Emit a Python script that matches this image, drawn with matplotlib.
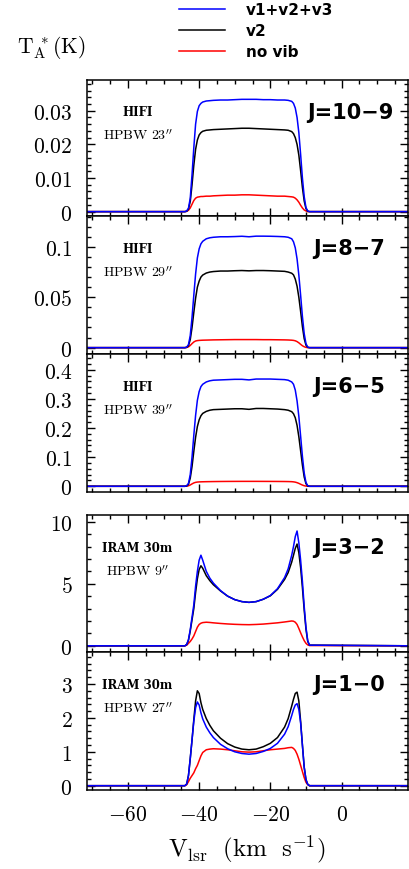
import matplotlib
matplotlib.use("Agg")
import matplotlib.pyplot as plt
from matplotlib.ticker import MultipleLocator, FuncFormatter

plt.rcParams["mathtext.fontset"] = "cm"

# velocity grid (km/s) shared by all profiles
vel = [-72, -44, -43.5, -43, -42.5, -42, -41.5, -41, -40.5, -40, -39.5, -39,
       -38, -37, -36, -34, -32, -30, -28, -26, -24, -22, -20, -18, -16, -15, -14,
       -13.5, -13, -12.5, -12, -11.5, -11, -10.5, -10, -9.5, -9, 19]

# J=10-9
j109_all = [0, 0, 0.0002, 0.001, 0.004, 0.011, 0.019, 0.026, 0.0298, 0.0315, 0.0322, 0.0326,
            0.0329, 0.0330, 0.0331, 0.0332, 0.0332, 0.0333, 0.0334, 0.0334, 0.0334, 0.0333, 0.0333, 0.0332, 0.0332, 0.0331, 0.0328,
            0.0322, 0.0308, 0.0280, 0.0235, 0.0170, 0.0100, 0.0045, 0.0012, 0.0002, 0, 0]
j109_v2 = [0, 0, 0.0001, 0.0008, 0.003, 0.008, 0.0138, 0.0185, 0.0213, 0.0228, 0.0235, 0.0239,
           0.0242, 0.0243, 0.0244, 0.0245, 0.0246, 0.0247, 0.0248, 0.0248, 0.0247, 0.0246, 0.0245, 0.0244, 0.0243, 0.0242, 0.0238,
           0.0232, 0.0220, 0.0200, 0.0168, 0.0122, 0.0072, 0.0032, 0.0009, 0.0001, 0, 0]
j109_novib = [0, 0, 0.0001, 0.0004, 0.0011, 0.0022, 0.0033, 0.0040, 0.0043, 0.0044, 0.0045, 0.0045,
              0.0046, 0.0046, 0.0047, 0.0048, 0.0049, 0.0049, 0.0050, 0.0050, 0.0049, 0.0048, 0.0047, 0.0046, 0.0046, 0.0045, 0.0044,
              0.0043, 0.0040, 0.0035, 0.0028, 0.0019, 0.0011, 0.0005, 0.0002, 0, 0, 0]

# J=8-7
j87_all = [0, 0, 0.0005, 0.003, 0.012, 0.030, 0.052, 0.073, 0.089, 0.098, 0.103, 0.1055,
           0.108, 0.109, 0.1095, 0.110, 0.110, 0.1102, 0.1105, 0.1100, 0.1106, 0.1106, 0.1105, 0.1103, 0.1100, 0.1095, 0.108,
           0.105, 0.099, 0.088, 0.072, 0.052, 0.031, 0.014, 0.004, 0.0005, 0, 0]
j87_v2 = [0, 0, 0.0003, 0.002, 0.008, 0.020, 0.035, 0.049, 0.060, 0.066, 0.070, 0.072,
          0.074, 0.075, 0.0755, 0.076, 0.076, 0.0763, 0.0765, 0.0762, 0.0765, 0.0765, 0.0763, 0.076, 0.0757, 0.075, 0.0738,
          0.0722, 0.068, 0.061, 0.050, 0.036, 0.021, 0.009, 0.0025, 0.0003, 0, 0]
j87_novib = [0, 0, 0.0002, 0.0008, 0.0022, 0.0040, 0.0056, 0.0066, 0.0070, 0.0072, 0.0073, 0.0074,
             0.0075, 0.0076, 0.0077, 0.0078, 0.0079, 0.0080, 0.0080, 0.0080, 0.0080, 0.0079, 0.0079, 0.0078, 0.0077, 0.0076, 0.0074,
             0.0072, 0.0068, 0.0060, 0.0048, 0.0033, 0.0019, 0.0009, 0.0003, 0, 0, 0]

# J=6-5
j65_all = [0, 0, 0.002, 0.010, 0.040, 0.100, 0.175, 0.243, 0.295, 0.325, 0.342, 0.350,
           0.358, 0.362, 0.364, 0.365, 0.366, 0.367, 0.367, 0.365, 0.368, 0.368, 0.368, 0.367, 0.366, 0.364, 0.358,
           0.350, 0.330, 0.293, 0.240, 0.172, 0.103, 0.046, 0.013, 0.002, 0, 0]
j65_v2 = [0, 0, 0.001, 0.007, 0.028, 0.068, 0.120, 0.168, 0.205, 0.228, 0.242, 0.250,
          0.257, 0.261, 0.263, 0.264, 0.265, 0.266, 0.266, 0.264, 0.267, 0.267, 0.266, 0.265, 0.263, 0.261, 0.256,
          0.249, 0.235, 0.209, 0.170, 0.122, 0.073, 0.032, 0.009, 0.001, 0, 0]
j65_novib = [0, 0, 0.0005, 0.0018, 0.0045, 0.0082, 0.0115, 0.0135, 0.0145, 0.0150, 0.0153, 0.0155,
             0.0158, 0.0160, 0.0162, 0.0165, 0.0167, 0.0168, 0.0169, 0.0169, 0.0169, 0.0168, 0.0167, 0.0166, 0.0164, 0.0162, 0.0158,
             0.0152, 0.0142, 0.0124, 0.0100, 0.0070, 0.0042, 0.0020, 0.0007, 0.0001, 0, 0]

# J=3-2
j32_all = [0, 0, 0.1, 0.5, 1.3, 2.3, 3.3, 4.8, 6.0, 6.9, 7.3, 6.9,
           6.0, 5.45, 5.05, 4.45, 4.0, 3.72, 3.56, 3.5, 3.56, 3.75, 4.05, 4.6, 5.5, 6.2, 7.3,
           8.0, 8.8, 9.25, 8.3, 6.9, 5.2, 3.2, 1.5, 0.4, 0.05, 0]
j32_v2 = [0, 0, 0.1, 0.45, 1.2, 2.1, 3.0, 4.3, 5.4, 6.15, 6.45, 6.25,
          5.65, 5.25, 4.92, 4.42, 4.0, 3.72, 3.56, 3.5, 3.56, 3.75, 4.03, 4.55, 5.35, 5.9, 6.75,
          7.3, 7.85, 8.2, 7.5, 6.3, 4.7, 2.9, 1.35, 0.35, 0.05, 0]
j32_novib = [0, 0, 0.05, 0.2, 0.35, 0.55, 0.8, 1.15, 1.5, 1.72, 1.82, 1.87,
             1.9, 1.88, 1.85, 1.8, 1.76, 1.73, 1.71, 1.7, 1.72, 1.75, 1.8, 1.85, 1.92, 1.96, 2.0,
             1.98, 1.9, 1.72, 1.4, 1.05, 0.72, 0.42, 0.2, 0.07, 0.02, 0]

# J=1-0
j10_all = [0, 0, 0.05, 0.3, 0.8, 1.35, 1.9, 2.3, 2.47, 2.38, 2.15, 1.97,
           1.73, 1.56, 1.42, 1.22, 1.09, 1.0, 0.95, 0.93, 0.95, 1.01, 1.1, 1.25, 1.52, 1.74, 2.07,
           2.25, 2.38, 2.42, 2.25, 1.85, 1.2, 0.55, 0.18, 0.04, 0, 0]
j10_v2 = [0, 0, 0.05, 0.3, 0.8, 1.35, 1.95, 2.5, 2.8, 2.72, 2.45, 2.25,
          1.98, 1.78, 1.62, 1.4, 1.24, 1.14, 1.08, 1.06, 1.08, 1.15, 1.25, 1.42, 1.73, 1.98, 2.35,
          2.55, 2.72, 2.76, 2.5, 1.9, 1.2, 0.55, 0.18, 0.04, 0, 0]
j10_novib = [0, 0, 0.03, 0.12, 0.22, 0.3, 0.38, 0.5, 0.6, 0.74, 0.88, 0.98,
             1.06, 1.08, 1.09, 1.08, 1.06, 1.03, 1.0, 0.99, 1.0, 1.03, 1.06, 1.08, 1.1, 1.12, 1.13,
             1.1, 1.04, 0.93, 0.78, 0.6, 0.42, 0.24, 0.1, 0.03, 0, 0]

transitions = ["J=10\u22129", "J=8\u22127", "J=6\u22125", "J=3\u22122", "J=1\u22120"]
telescopes = ["HIFI", "HIFI", "HIFI", "IRAM 30m", "IRAM 30m"]
beams = ["23", "29", "39", "9", "27"]
series_labels = ["v1+v2+v3", "v2", "no vib"]
series_colors = ["#0000ff", "#000000", "#ff0000"]

profiles = [
    (j109_all, j109_v2, j109_novib),
    (j87_all, j87_v2, j87_novib),
    (j65_all, j65_v2, j65_novib),
    (j32_all, j32_v2, j32_novib),
    (j10_all, j10_v2, j10_novib),
]

# layout (pixels from top of a 410x870 figure)
W, H = 410, 870
panel_px = [(80.5, 217), (217, 355), (355, 493), (516, 653), (653, 791)]
left_px, right_px = 87, 408.5
ylims = [(-0.0013, 0.0393), (-0.0063, 0.1306), (-0.0196, 0.4539), (-0.5, 10.54), (-0.127, 3.944)]
ymajor = [0.01, 0.05, 0.1, 5, 1]
yminor = [0.002, 0.01, 0.02, 1, 0.2]
jx = [0.684, 0.705, 0.705, 0.705, 0.705]

fmt = FuncFormatter(lambda v, pos: "$%g$" % v if abs(v) > 1e-9 else "$0$")

fig = plt.figure(figsize=(W / 100, H / 100), dpi=100)
axes = []
for i, (top, bot) in enumerate(panel_px):
    ax = fig.add_axes([left_px / W, 1 - bot / H, (right_px - left_px) / W, (bot - top) / H])
    axes.append(ax)
    # draw red first, blue last (on top)
    for k in (2, 1, 0):
        ax.plot(vel, profiles[i][k], color=series_colors[k], lw=1.1, label=series_labels[k])
    ax.set_xlim(-71.5, 18.8)
    ax.set_ylim(*ylims[i])
    ax.xaxis.set_major_locator(MultipleLocator(20))
    ax.xaxis.set_minor_locator(MultipleLocator(5))
    ax.yaxis.set_major_locator(MultipleLocator(ymajor[i]))
    ax.yaxis.set_minor_locator(MultipleLocator(yminor[i]))
    ax.yaxis.set_major_formatter(fmt)
    ax.xaxis.set_major_formatter(fmt)
    ax.tick_params(which="both", direction="in", top=True, right=True, width=1.0,
                   labelsize=15.5)
    ax.tick_params(which="major", length=6)
    ax.tick_params(which="minor", length=3)
    ax.tick_params(axis="y", pad=10.5)
    ax.tick_params(axis="x", pad=10)
    if i != 4:
        ax.tick_params(axis="x", labelbottom=False)
    for sp in ax.spines.values():
        sp.set_linewidth(1.1)

    ax.text(0.157, 0.765, telescopes[i], transform=ax.transAxes, ha="center", va="center",
            fontsize=8.5, fontweight="bold", family="DejaVu Serif")
    ax.text(0.157, 0.595, r"$\mathrm{HPBW\ %s}^{\prime\prime}$" % beams[i], transform=ax.transAxes,
            ha="center", va="center", fontsize=10)
    ax.text(jx[i], 0.765, transitions[i], transform=ax.transAxes, ha="left", va="center",
            fontsize=15, fontweight="bold", family="DejaVu Sans")

# legend in the top margin
h = axes[0].get_lines()
handles = [h[2], h[1], h[0]]
fig.legend(handles, series_labels, loc="upper left", bbox_to_anchor=(179 / W, 1 - 3 / H),
           frameon=False, borderpad=0, borderaxespad=0, handlelength=3.0, handletextpad=1.4,
           labelspacing=0.4, prop={"weight": "bold", "size": 11, "family": "DejaVu Sans"})

fig.text(17 / W, 1 - 53 / H, r"$\mathrm{T_A^{\ *}(K)}$", ha="left", va="baseline", fontsize=15.5)
fig.text(247 / W, 1 - 849 / H, r"$\mathrm{V_{lsr}\ \ (km\ \ s^{-1})}$", ha="center", va="center",
         fontsize=18)

fig.savefig("out.png", dpi=100)
